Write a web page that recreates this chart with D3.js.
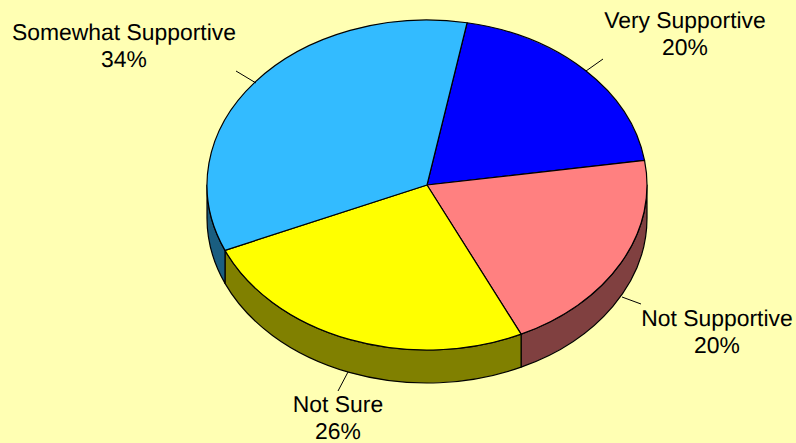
<!DOCTYPE html>
<html>
<head>
<meta charset="utf-8">
<script src="https://cdn.jsdelivr.net/npm/d3@7"></script>
<style>html,body{margin:0;padding:0;background:#FFFFB3;overflow:hidden}svg{display:block}text{text-rendering:geometricPrecision}</style>
</head>
<body>
<script>
const categories = ["Very Supportive", "Not Supportive", "Not Sure", "Somewhat Supportive"];
const values = [19.7, 20.35, 25.55, 34.4];
const topColors = ["#0000FF", "#FF8080", "#FFFF00", "#33BBFF"];
const sideColors = ["#000080", "#804040", "#808000", "#1A5E80"];
const labelAnchors = [[685, 28], [717, 326], [338, 412], [124, 40]];
const leaders = [[[603, 59], [586, 71]], [[641, 304], [622, 297]], [[338, 391], [348, 372]], [[236, 71], [256, 83]]];

const W = 796, H = 443, cx = 427, cy = 185, rx = 220, ry = 165, depth = 33;
const startDeg = 10.5;
const svg = d3.select("body").append("svg").attr("width", W).attr("height", H);
svg.append("rect").attr("width", W).attr("height", H).attr("fill", "#FFFFB3");

const pie = d3.pie().sort(null)
  .startAngle(startDeg * Math.PI / 180)
  .endAngle((startDeg + 360) * Math.PI / 180);
const arcs = pie(values);
const pt = (a, dy = 0) => [cx + rx * Math.sin(a), cy - ry * Math.cos(a) + dy];

function topPath(d) {
  const p = d3.path();
  const [x0, y0] = pt(d.startAngle), [x1, y1] = pt(d.endAngle);
  p.moveTo(cx, cy); p.lineTo(x0, y0);
  const large = d.endAngle - d.startAngle > Math.PI ? 1 : 0;
  return p.toString() + `A${rx},${ry} 0 ${large} 1 ${x1},${y1}Z`;
}
function sidePath(a0, a1) {
  const [x0, y0] = pt(a0), [x1, y1] = pt(a1);
  const [x2, y2] = pt(a1, depth), [x3, y3] = pt(a0, depth);
  return `M${x0},${y0}A${rx},${ry} 0 0 1 ${x1},${y1}L${x2},${y2}A${rx},${ry} 0 0 0 ${x3},${y3}Z`;
}
const g = svg.append("g").attr("stroke", "#000").attr("stroke-width", 1.2).attr("stroke-linejoin", "round");
arcs.forEach((d, i) => {
  const a0 = Math.max(d.startAngle, Math.PI / 2), a1 = Math.min(d.endAngle, 3 * Math.PI / 2);
  if (a1 > a0) g.append("path").attr("d", sidePath(a0, a1)).attr("fill", sideColors[i]);
});
g.selectAll("path.top").data(arcs).join("path").attr("class", "top")
  .attr("d", topPath).attr("fill", (d, i) => topColors[i]);

svg.append("g").selectAll("line").data(leaders).join("line")
  .attr("x1", d => d[0][0]).attr("y1", d => d[0][1])
  .attr("x2", d => d[1][0]).attr("y2", d => d[1][1])
  .attr("stroke", "#000").attr("stroke-width", 1);

const lab = svg.append("g").attr("font-family", "'Liberation Sans', Arial, sans-serif")
  .attr("font-size", 22.9).attr("fill", "#000").attr("text-anchor", "middle");
categories.forEach((c, i) => {
  const [x, y] = labelAnchors[i];
  lab.append("text").attr("x", x).attr("y", y).text(c);
  lab.append("text").attr("x", x).attr("y", y + 26.5).text(Math.round(values[i]) + "%");
});
</script>
</body>
</html>
